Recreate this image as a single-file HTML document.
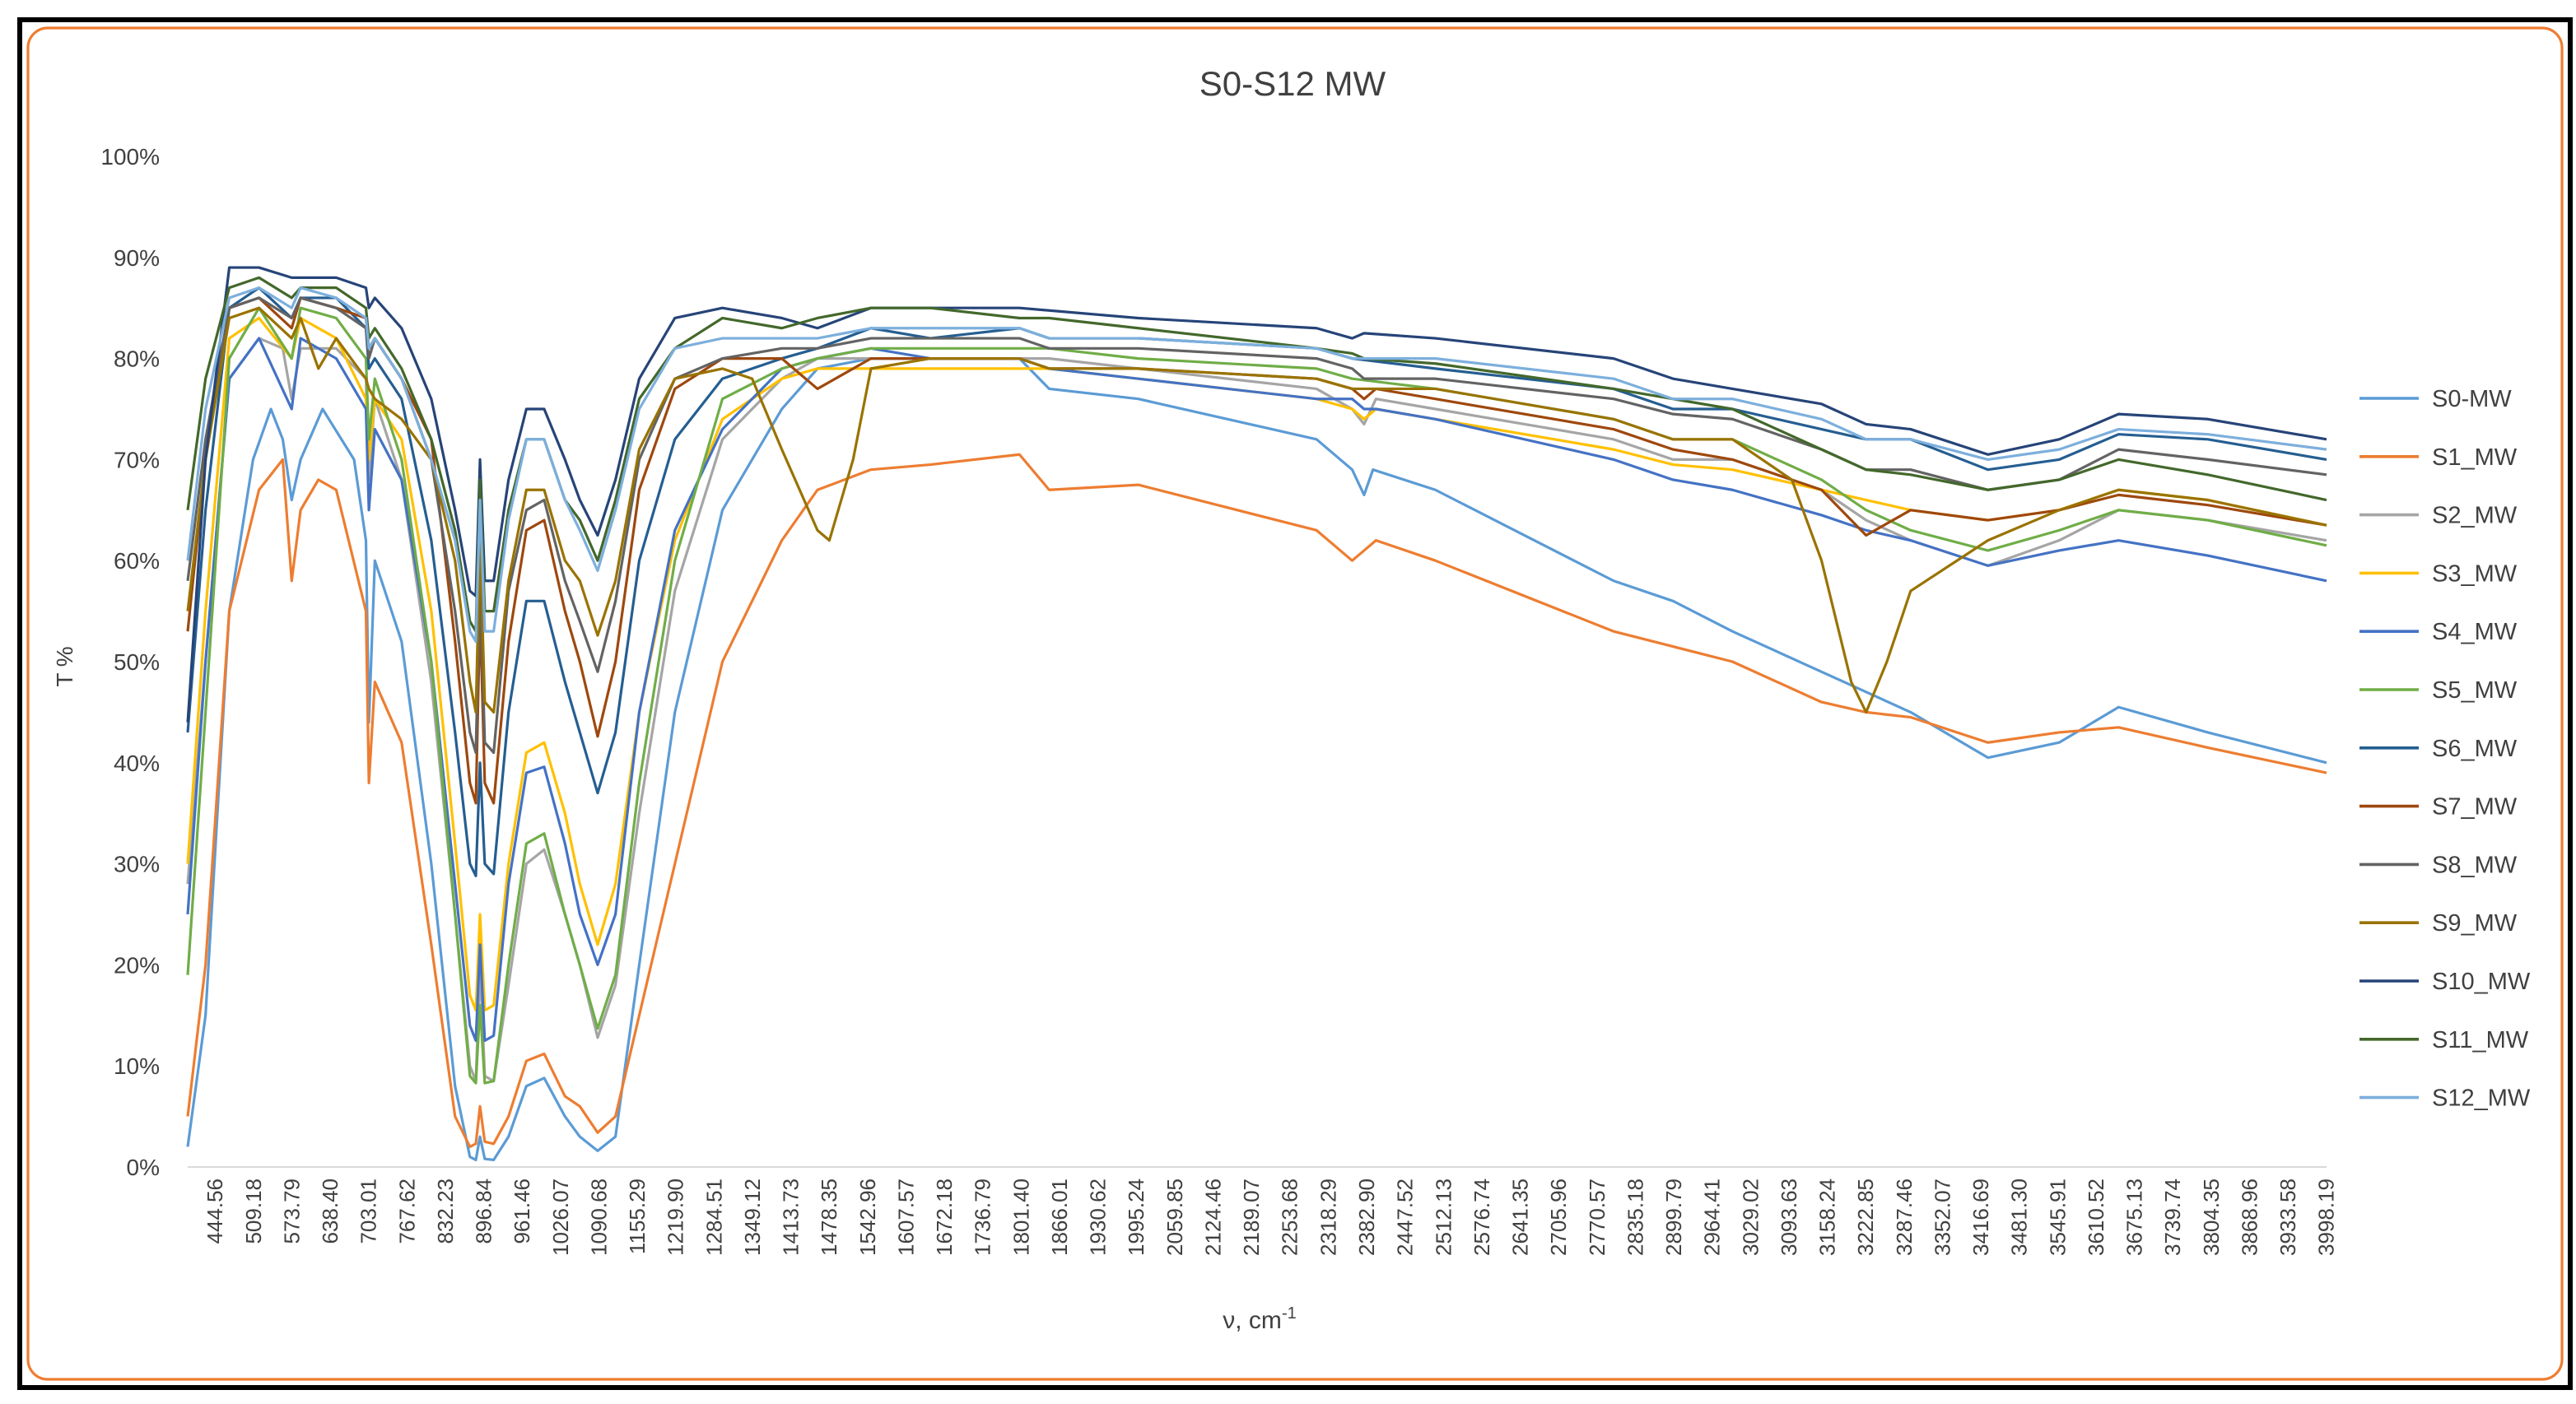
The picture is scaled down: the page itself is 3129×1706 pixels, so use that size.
<!DOCTYPE html>
<html><head><meta charset="utf-8"><style>
html,body{margin:0;padding:0;background:#fff;}
svg{display:block;font-family:"Liberation Sans",sans-serif;}
</style></head><body>
<svg id="chart" width="3129" height="1706" viewBox="0 0 1564.5 853" xmlns="http://www.w3.org/2000/svg">
<rect x="12" y="12" width="1549" height="831" fill="#fff" stroke="#000" stroke-width="3"/>
<rect x="17" y="17" width="1539" height="821" rx="12" fill="#fff" stroke="#ED7D31" stroke-width="1.6"/>
<text x="785" y="58" text-anchor="middle" font-size="21" fill="#404040">S0-S12 MW</text>
<text transform="translate(44,405) rotate(-90)" text-anchor="middle" font-size="14" fill="#404040">T %</text>
<text x="765" y="807" text-anchor="middle" font-size="15" fill="#404040">ν, cm<tspan font-size="10" dy="-6">-1</tspan></text>
<g id="yt"></g><g id="xt"></g><g id="series"></g><g id="legend"></g>
</svg>
<script>
const yTicks = [0,10,20,30,40,50,60,70,80,90,100];
const xTickLabels = ["444.56","509.18","573.79","638.40","703.01","767.62","832.23","896.84","961.46","1026.07","1090.68","1155.29","1219.90","1284.51","1349.12","1413.73","1478.35","1542.96","1607.57","1672.18","1736.79","1801.40","1866.01","1930.62","1995.24","2059.85","2124.46","2189.07","2253.68","2318.29","2382.90","2447.52","2512.13","2576.74","2641.35","2705.96","2770.57","2835.18","2899.79","2964.41","3029.02","3093.63","3158.24","3222.85","3287.46","3352.07","3416.69","3481.30","3545.91","3610.52","3675.13","3739.74","3804.35","3868.96","3933.58","3998.19"];
const names = ["S0-MW","S1_MW","S2_MW","S3_MW","S4_MW","S5_MW","S6_MW","S7_MW","S8_MW","S9_MW","S10_MW","S11_MW","S12_MW"];
const colors = ["#5B9BD5","#ED7D31","#A5A5A5","#FFC000","#4472C4","#70AD47","#255E91","#9E480E","#636363","#997300","#264478","#43682B","#7CAFDD"];
const s0 = [[400,2],[430,15],[470,55],[510,70],[540,75],[560,72],[575,66],[590,70],[627,75],[680,70],[700,62],[705,44],[715,60],[760,52],[810,30],[850,8],[875,1],[885,0.7],[892,3],[900,0.8],[915,0.7],[940,3],[970,8],[1000,8.8],[1035,5],[1060,3],[1090,1.6],[1120,3],[1160,20],[1220,45],[1300,65],[1400,75],[1460,79],[1550,80],[1650,80],[1800,80],[1850,77],[2000,76],[2300,72],[2360,69],[2380,66.5],[2395,69],[2500,67],[2800,58],[2900,56],[3000,53],[3150,49],[3225,47],[3300,45],[3430,40.5],[3550,42],[3650,45.5],[3800,43],[4000,40]];
const s1 = [[400,5],[430,20],[470,55],[520,67],[560,70],[575,58],[590,65],[620,68],[650,67],[700,55],[705,38],[715,48],[760,42],[810,22],[850,5],[875,2],[885,2.3],[892,6],[900,2.5],[915,2.3],[940,5],[970,10.5],[1000,11.2],[1035,7],[1060,6],[1090,3.4],[1120,5],[1160,15],[1220,30],[1300,50],[1400,62],[1460,67],[1550,69],[1650,69.5],[1800,70.5],[1850,67],[2000,67.5],[2300,63],[2360,60],[2380,61],[2400,62],[2500,60],[2800,53],[2900,51.5],[3000,50],[3150,46],[3225,45],[3300,44.5],[3430,42],[3550,43],[3650,43.5],[3800,41.5],[4000,39]];
const s2 = [[400,28],[430,50],[470,78],[520,82],[560,81],[575,76],[590,81],[650,81],[700,78],[705,68],[715,76],[760,68],[810,48],[850,25],[875,10],[885,8.5],[892,20],[900,9],[915,8.5],[940,18],[970,30],[1000,31.4],[1035,25],[1060,20],[1090,12.8],[1120,18],[1160,35],[1220,57],[1300,72],[1400,78],[1460,80],[1550,80],[1800,80],[1850,80],[2000,79],[2300,77],[2360,75],[2380,73.5],[2400,76],[2500,75],[2800,72],[2900,70],[3000,70],[3150,67],[3225,64],[3300,62],[3430,59.5],[3550,62],[3650,65],[3800,64],[4000,62]];
const s3 = [[400,30],[430,55],[470,82],[520,84],[575,80],[590,84],[650,82],[700,76],[705,70],[715,76],[760,72],[810,55],[850,32],[875,17],[885,15.5],[892,25],[900,15.5],[915,16],[940,30],[970,41],[1000,42],[1035,35],[1060,28],[1090,22],[1120,28],[1160,45],[1220,62],[1300,74],[1400,78],[1460,79],[1800,79],[1850,79],[2000,78],[2300,76],[2360,75],[2380,74],[2400,75],[2500,74],[2800,71],[2900,69.5],[3000,69],[3150,67],[3225,66],[3300,65],[3430,64],[3550,65],[3650,67],[3800,66],[4000,63.5]];
const s4 = [[400,25],[430,50],[470,78],[520,82],[575,75],[590,82],[650,80],[700,75],[705,65],[715,73],[760,68],[810,50],[850,28],[875,14],[885,12.5],[892,22],[900,12.5],[915,13],[940,28],[970,39],[1000,39.6],[1035,32],[1060,25],[1090,20],[1120,25],[1160,45],[1220,63],[1300,73],[1400,79],[1460,80],[1550,81],[1650,80],[1800,80],[1850,79],[2000,78],[2300,76],[2360,76],[2380,75],[2400,75],[2500,74],[2800,70],[2900,68],[3000,67],[3150,64.5],[3225,63],[3300,62],[3430,59.5],[3550,61],[3650,62],[3800,60.5],[4000,58]];
const s5 = [[400,19],[430,45],[470,80],[520,85],[575,80],[590,85],[650,84],[700,80],[705,72],[715,78],[760,70],[810,50],[850,25],[875,9],[885,8.3],[892,16],[900,8.3],[915,8.5],[940,20],[970,32],[1000,33],[1035,25],[1060,20],[1090,13.7],[1120,19],[1160,38],[1220,60],[1300,76],[1400,79],[1460,80],[1550,81],[1850,81],[2000,80],[2300,79],[2360,78],[2500,77],[2800,74],[2900,72],[3000,72],[3150,68],[3225,65],[3300,63],[3430,61],[3550,63],[3650,65],[3800,64],[4000,61.5]];
const s6 = [[400,43],[430,65],[470,85],[520,87],[575,84],[590,86],[650,86],[700,83],[705,79],[715,80],[760,76],[810,62],[850,43],[875,30],[885,28.8],[892,40],[900,30],[915,29],[940,45],[970,56],[1000,56],[1035,48],[1060,43],[1090,37],[1120,43],[1160,60],[1220,72],[1300,78],[1400,80],[1460,81],[1550,83],[1650,82],[1800,83],[1850,82],[2000,82],[2300,81],[2360,80],[2500,79],[2800,77],[2900,75],[3000,75],[3150,73],[3225,72],[3300,72],[3430,69],[3550,70],[3650,72.5],[3800,72],[4000,70]];
const s7 = [[400,53],[430,70],[470,85],[520,86],[575,83],[590,86],[650,85],[700,84],[705,81],[715,82],[760,78],[810,72],[850,52],[875,38],[885,36],[892,55],[900,38],[915,36],[940,52],[970,63],[1000,64],[1035,55],[1060,50],[1090,42.6],[1120,50],[1160,67],[1220,77],[1300,80],[1400,80],[1460,77],[1550,80],[1800,80],[1850,79],[2000,79],[2300,78],[2360,77],[2380,76],[2400,77],[2500,76],[2800,73],[2900,71],[3000,70],[3150,67],[3225,62.5],[3300,65],[3430,64],[3550,65],[3650,66.5],[3800,65.5],[4000,63.5]];
const s8 = [[400,58],[430,72],[470,85],[520,86],[575,84],[590,86],[650,85],[700,83],[705,80],[715,82],[760,78],[810,70],[850,55],[875,43],[885,41],[892,58],[900,42],[915,41],[940,57],[970,65],[1000,66],[1035,58],[1060,54],[1090,49],[1120,56],[1160,70],[1220,78],[1300,80],[1400,81],[1460,81],[1550,82],[1800,82],[1850,81],[2000,81],[2300,80],[2360,79],[2380,78],[2500,78],[2800,76],[2900,74.5],[3000,74],[3150,71],[3225,69],[3300,69],[3430,67],[3550,68],[3650,71],[3800,70],[4000,68.5]];
const s9 = [[400,55],[430,70],[470,84],[520,85],[575,82],[590,84],[620,79],[650,82],[700,78],[705,77],[715,76],[760,74],[810,70],[850,60],[875,48],[885,45],[892,62],[900,46],[915,45],[940,58],[970,67],[1000,67],[1035,60],[1060,58],[1090,52.6],[1120,58],[1160,71],[1220,78],[1300,79],[1350,78],[1400,71],[1460,63],[1480,62],[1520,70],[1550,79],[1650,80],[1800,80],[1850,79],[2000,79],[2300,78],[2360,77],[2500,77],[2800,74],[2900,72],[3000,72],[3100,68],[3150,60],[3200,48],[3225,45],[3260,50],[3300,57],[3430,62],[3550,65],[3650,67],[3800,66],[4000,63.5]];
const s10 = [[400,44],[430,70],[470,89],[520,89],[575,88],[650,88],[700,87],[705,85],[715,86],[760,83],[810,76],[850,65],[875,57],[885,56.5],[892,70],[900,58],[915,58],[940,68],[970,75],[1000,75],[1035,70],[1060,66],[1090,62.5],[1120,68],[1160,78],[1220,84],[1300,85],[1400,84],[1460,83],[1550,85],[1650,85],[1800,85],[2000,84],[2300,83],[2360,82],[2380,82.5],[2500,82],[2800,80],[2900,78],[3000,77],[3150,75.5],[3225,73.5],[3300,73],[3430,70.5],[3550,72],[3650,74.5],[3800,74],[4000,72]];
const s11 = [[400,65],[430,78],[470,87],[520,88],[575,86],[590,87],[650,87],[700,85],[705,82],[715,83],[760,79],[810,72],[850,63],[875,54],[885,53],[892,68],[900,55],[915,55],[940,65],[970,72],[1000,72],[1035,66],[1060,64],[1090,60],[1120,66],[1160,76],[1220,81],[1300,84],[1400,83],[1460,84],[1550,85],[1650,85],[1800,84],[1850,84],[2000,83],[2300,81],[2360,80.5],[2380,80],[2500,79.5],[2800,77],[2900,76],[3000,75],[3150,71],[3225,69],[3300,68.5],[3430,67],[3550,68],[3650,70],[3800,68.5],[4000,66]];
const s12 = [[400,60],[430,75],[470,86],[520,87],[575,85],[590,87],[650,86],[700,84],[705,81],[715,82],[760,78],[810,70],[850,62],[875,53],[885,52],[892,66],[900,53],[915,53],[940,64],[970,72],[1000,72],[1035,66],[1060,63],[1090,59],[1120,65],[1160,75],[1220,81],[1300,82],[1460,82],[1550,83],[1800,83],[1850,82],[2000,82],[2300,81],[2360,80],[2500,80],[2800,78],[2900,76],[3000,76],[3150,74],[3225,72],[3300,72],[3430,70],[3550,71],[3650,73],[3800,72.5],[4000,71]];
const seriesData = [s0,s1,s2,s3,s4,s5,s6,s7,s8,s9,s10,s11,s12];

const NS = "http://www.w3.org/2000/svg";
const X0 = 114, X1 = 1413, W0 = 400, W1 = 4000, Y0 = 709, Y100 = 95;
function xs(w){ return X0 + (w - W0) * (X1 - X0) / (W1 - W0); }
function ys(t){ return Y0 - t * (Y0 - Y100) / 100; }
function mk(tag, parent){ const e = document.createElementNS(NS, tag); parent.appendChild(e); return e; }

const yt = document.getElementById('yt');
yTicks.forEach(v => {
  const t = mk('text', yt);
  
  
  t.setAttribute('x', 97); t.setAttribute('y', ys(v) + 5);
  t.setAttribute('text-anchor', 'end'); t.setAttribute('font-size', '14'); t.setAttribute('fill', '#404040');
  t.textContent = v + '%';
});
const ax = mk('line', yt);


ax.setAttribute('x1', X0); ax.setAttribute('x2', X1); ax.setAttribute('y1', Y0); ax.setAttribute('y2', Y0);
ax.setAttribute('stroke', '#d9d9d9'); ax.setAttribute('stroke-width', '1');

const xt = document.getElementById('xt');
xTickLabels.forEach(lbl => {
  const w = parseFloat(lbl);
  const t = mk('text', xt);
  
  
  const x = xs(w);
  t.setAttribute('transform', 'translate(' + (x + 5) + ',716) rotate(-90)');
  t.setAttribute('text-anchor', 'end'); t.setAttribute('font-size', '13'); t.setAttribute('fill', '#404040');
  t.textContent = lbl;
});

const sg = document.getElementById('series');
seriesData.forEach((d, i) => {
  const p = mk('polyline', sg);
  
  
  p.setAttribute('points', d.map(q => xs(q[0]).toFixed(2) + ',' + ys(q[1]).toFixed(2)).join(' '));
  p.setAttribute('fill', 'none'); p.setAttribute('stroke', colors[i]);
  p.setAttribute('stroke-width', '1.6'); p.setAttribute('stroke-linejoin', 'round');
});

const lg = document.getElementById('legend');
names.forEach((n, i) => {
  const y = 242 + i * 35.4;
  const l = mk('line', lg);
  
  
  l.setAttribute('x1', 1433); l.setAttribute('x2', 1469); l.setAttribute('y1', y); l.setAttribute('y2', y);
  l.setAttribute('stroke', colors[i]); l.setAttribute('stroke-width', '1.8');
  const t = mk('text', lg);
  
  
  t.setAttribute('x', 1477); t.setAttribute('y', y + 5);
  t.setAttribute('font-size', '14.5'); t.setAttribute('fill', '#404040');
  t.textContent = n;
});
</script>
</body></html>
